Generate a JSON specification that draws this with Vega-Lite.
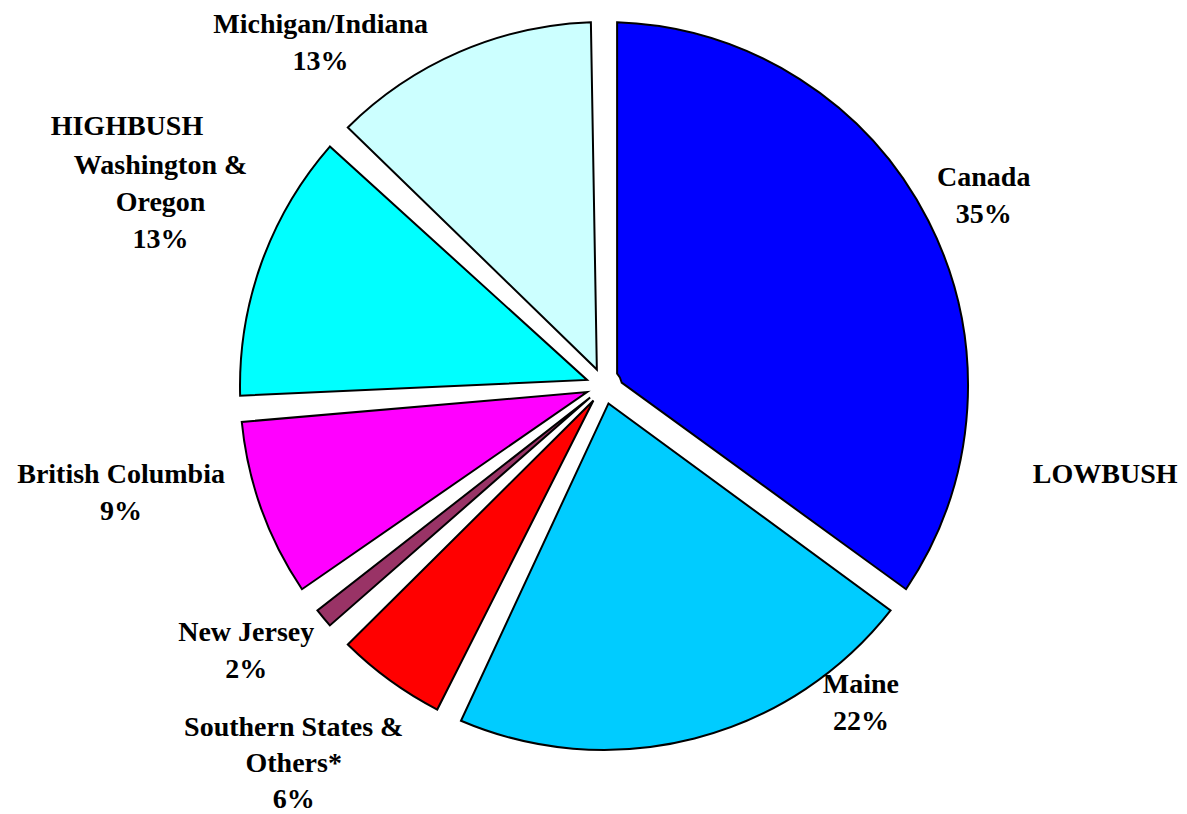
{
  "$schema": "https://vega.github.io/schema/vega-lite/v6.json",
  "autosize": {"type": "none"},
  "width": 1166,
  "height": 772,
  "padding": {"left": 21, "top": 0, "right": 0, "bottom": 42},
  "background": "white",
  "config": {"view": {"stroke": null}},
  "data": {
    "values": [
      {"idx": 1, "name": "Canada", "type": "LOWBUSH", "value": 35, "label": "Canada\n35%"},
      {"idx": 2, "name": "Maine", "type": "LOWBUSH", "value": 22, "label": "Maine\n22%"},
      {"idx": 3, "name": "Southern States & Others*", "type": "HIGHBUSH", "value": 6, "label": "Southern States &\nOthers*\n6%"},
      {"idx": 4, "name": "New Jersey", "type": "HIGHBUSH", "value": 2, "label": "New Jersey\n2%"},
      {"idx": 5, "name": "British Columbia", "type": "HIGHBUSH", "value": 9, "label": "British Columbia\n9%"},
      {"idx": 6, "name": "Washington & Oregon", "type": "HIGHBUSH", "value": 13, "label": "Washington &\nOregon\n13%"},
      {"idx": 7, "name": "Michigan/Indiana", "type": "HIGHBUSH", "value": 13, "label": "Michigan/Indiana\n13%"}
    ]
  },
  "encoding": {
    "theta": {"field": "value", "type": "quantitative", "stack": true},
    "order": {"field": "idx", "type": "quantitative"}
  },
  "layer": [
    {
      "mark": {"type": "arc", "outerRadius": 364, "innerRadius": 18, "padAngle": 0.072, "stroke": "black", "strokeWidth": 2},
      "encoding": {
        "color": {
          "field": "name", "type": "nominal", "legend": null,
          "scale": {
            "domain": ["Canada", "Maine", "Southern States & Others*", "New Jersey", "British Columbia", "Washington & Oregon", "Michigan/Indiana"],
            "range": ["#0000FF", "#00CCFF", "#FF0000", "#993366", "#FF00FF", "#00FFFF", "#CCFFFF"]
          }
        }
      }
    },
    {
      "mark": {"type": "text", "radius": 433, "thetaOffset": -0.03, "font": "Liberation Serif", "fontWeight": "bold", "fontSize": 28, "lineBreak": "\n", "lineHeight": 37, "align": "center", "baseline": "middle", "color": "black"},
      "encoding": {"text": {"condition": {"test": "datum.name === 'Canada'", "field": "label", "type": "nominal"}, "value": ""}}
    },
    {
      "mark": {"type": "text", "radius": 394, "thetaOffset": -0.459, "font": "Liberation Serif", "fontWeight": "bold", "fontSize": 28, "lineBreak": "\n", "lineHeight": 37, "align": "center", "baseline": "middle", "color": "black"},
      "encoding": {"text": {"condition": {"test": "datum.name === 'Maine'", "field": "label", "type": "nominal"}, "value": ""}}
    },
    {
      "mark": {"type": "text", "radius": 462, "thetaOffset": 0.108, "font": "Liberation Serif", "fontWeight": "bold", "fontSize": 28, "lineBreak": "\n", "lineHeight": 36, "align": "center", "baseline": "middle", "color": "black"},
      "encoding": {"text": {"condition": {"test": "datum.name === 'Southern States & Others*'", "field": "label", "type": "nominal"}, "value": ""}}
    },
    {
      "mark": {"type": "text", "radius": 435, "thetaOffset": 0.086, "font": "Liberation Serif", "fontWeight": "bold", "fontSize": 28, "lineBreak": "\n", "lineHeight": 37, "align": "center", "baseline": "middle", "color": "black"},
      "encoding": {"text": {"condition": {"test": "datum.name === 'New Jersey'", "field": "label", "type": "nominal"}, "value": ""}}
    },
    {
      "mark": {"type": "text", "radius": 491, "thetaOffset": 0.164, "font": "Liberation Serif", "fontWeight": "bold", "fontSize": 28, "lineBreak": "\n", "lineHeight": 37, "align": "center", "baseline": "middle", "color": "black"},
      "encoding": {"text": {"condition": {"test": "datum.name === 'British Columbia'", "field": "label", "type": "nominal"}, "value": ""}}
    },
    {
      "mark": {"type": "text", "radius": 495, "thetaOffset": 0.115, "font": "Liberation Serif", "fontWeight": "bold", "fontSize": 28, "lineBreak": "\n", "lineHeight": 37, "align": "center", "baseline": "middle", "color": "black"},
      "encoding": {"text": {"condition": {"test": "datum.name === 'Washington & Oregon'", "field": "label", "type": "nominal"}, "value": ""}}
    },
    {
      "mark": {"type": "text", "radius": 459, "thetaOffset": -0.257, "font": "Liberation Serif", "fontWeight": "bold", "fontSize": 28, "lineBreak": "\n", "lineHeight": 37, "align": "center", "baseline": "middle", "color": "black"},
      "encoding": {"text": {"condition": {"test": "datum.name === 'Michigan/Indiana'", "field": "label", "type": "nominal"}, "value": ""}}
    },
    {
      "transform": [{"aggregate": [{"op": "sum", "field": "value", "as": "value"}], "groupby": ["type"]}],
      "mark": {"type": "text", "radius": 509, "thetaOffset": -0.044, "font": "Liberation Serif", "fontWeight": "bold", "fontSize": 28, "align": "center", "baseline": "middle", "color": "black"},
      "encoding": {
        "order": {"field": "type", "type": "nominal", "sort": "descending"},
        "text": {"condition": {"test": "datum.type === 'LOWBUSH'", "field": "type", "type": "nominal"}, "value": ""}
      }
    },
    {
      "transform": [{"aggregate": [{"op": "sum", "field": "value", "as": "value"}], "groupby": ["type"]}],
      "mark": {"type": "text", "radius": 543, "thetaOffset": 0.278, "font": "Liberation Serif", "fontWeight": "bold", "fontSize": 28, "align": "center", "baseline": "middle", "color": "black"},
      "encoding": {
        "order": {"field": "type", "type": "nominal", "sort": "descending"},
        "text": {"condition": {"test": "datum.type === 'HIGHBUSH'", "field": "type", "type": "nominal"}, "value": ""}
      }
    }
  ]
}
